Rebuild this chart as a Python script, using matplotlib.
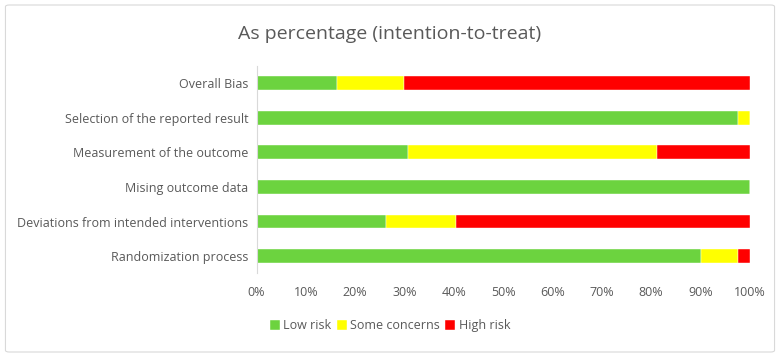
import matplotlib
matplotlib.use("Agg")
import matplotlib.pyplot as plt
from matplotlib.patches import FancyBboxPatch
import numpy as np

plt.rcParams['font.family'] = ['Open Sans', 'DejaVu Sans']

# bottom to top, as drawn
domains = ["Randomization process",
           "Deviations from intended interventions",
           "Mising outcome data",
           "Measurement of the outcome",
           "Selection of the reported result",
           "Overall Bias"]
low_risk = [90.1, 26.2, 100.0, 30.7, 97.7, 16.4]
some_concerns = [7.5, 14.3, 0.0, 50.5, 2.3, 13.5]
high_risk = [2.4, 59.5, 0.0, 18.8, 0.0, 70.1]

series = ["Low risk", "Some concerns", "High risk"]
colors = ["#6cd33f", "#ffff00", "#ff0000"]

fig = plt.figure(figsize=(7.8, 3.57), dpi=100)
ax = fig.add_axes([0.329, 0.234, 0.632, 0.582])

y = np.arange(len(domains))
left = np.zeros(len(domains))
for name, vals, c in zip(series, [low_risk, some_concerns, high_risk], colors):
    ax.barh(y, vals, left=left, height=0.4, color=c, label=name,
            edgecolor="white", linewidth=0.3)
    left += np.array(vals)

ax.set_xlim(0, 100)
ax.set_ylim(-0.5, len(domains) - 0.5)
ax.set_yticks(y)
ax.set_yticklabels(domains, fontsize=9, color="#595959")
ax.set_xticks(np.arange(0, 101, 10))
ax.set_xticklabels([f"{v}%" for v in range(0, 101, 10)], fontsize=9, color="#595959")
ax.tick_params(length=0)
ax.tick_params(axis="x", pad=9)
ax.tick_params(axis="y", pad=6)
for s in ["top", "right", "bottom"]:
    ax.spines[s].set_visible(False)
ax.spines["left"].set_color("#d9d9d9")

fig.text(0.5, 0.905, "As percentage (intention-to-treat)", ha="center", va="center",
         fontsize=14, color="#595959")

fig.legend(loc="center", bbox_to_anchor=(0.5, 0.088), ncol=3, frameon=False,
           fontsize=9, handlelength=0.8, handleheight=0.8, handletextpad=0.3,
           columnspacing=0.4, labelcolor="#595959")

border = FancyBboxPatch((0.007, 0.014), 0.986, 0.972, boxstyle="round,pad=0,rounding_size=0.005",
                        transform=fig.transFigure, facecolor="none", edgecolor="#d9d9d9", linewidth=0.8)
fig.patches.append(border)

fig.savefig("out.png", dpi=100)
